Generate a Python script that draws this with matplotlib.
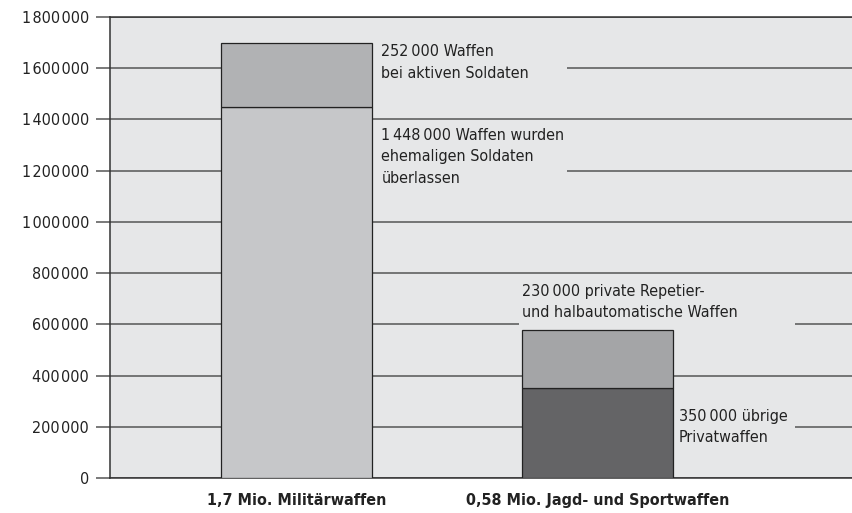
import numpy as np
import matplotlib
matplotlib.use("Agg")
import matplotlib.pyplot as plt
from matplotlib.patches import Rectangle
from matplotlib.ticker import FuncFormatter

plt.rcParams['font.family'] = ['DejaVu Sans']
plt.rcParams['font.stretch'] = 'condensed'

# data
categories = ['1,7 Mio. Militärwaffen', '0,58 Mio. Jagd- und Sportwaffen']
lower = [1448000, 350000]
upper = [252000, 230000]
lower_colors = ['#c6c7c9', '#646466']
upper_colors = ['#b1b2b4', '#a4a5a7']
yticks = np.arange(0, 1800001, 200000)

BG = '#e6e7e8'
GRID = '#555555'


def fmt(v, pos=None):
    s = f"{int(v):,}".replace(',', '\u200a')
    return s


fig = plt.figure(figsize=(8.53, 5.13), dpi=100)
ax = fig.add_axes([0.129, 0.068, 0.871, 0.899])
ax.set_facecolor(BG)

x = np.arange(len(categories))
w = 0.5
ax.bar(x, lower, w, color=lower_colors, edgecolor='#222222', linewidth=0.9, zorder=3)
ax.bar(x, upper, w, bottom=lower, color=upper_colors, edgecolor='#222222',
       linewidth=0.9, zorder=3)

ax.set_xlim(-0.62, 1.85)
ax.set_ylim(0, 1800000)
ax.set_yticks(yticks)
ax.yaxis.set_major_formatter(FuncFormatter(fmt))
ax.yaxis.grid(True, color=GRID, linewidth=1.1, zorder=0)
ax.set_axisbelow(True)

ax.set_xticks(x)
ax.set_xticklabels(categories, fontweight='bold', fontsize=11.5, color='#222222')
ax.tick_params(axis='x', length=0, pad=11)
ax.tick_params(axis='y', length=10, width=1.1, color=GRID, labelsize=11.5,
               labelcolor='#222222', pad=5)

ax.spines['right'].set_visible(False)
for side in ['left', 'bottom', 'top']:
    ax.spines[side].set_color('#333333')
    ax.spines[side].set_linewidth(1.1)

# gaps in gridlines behind annotations
def gap(x0, x1, y, h=30000):
    ax.add_patch(Rectangle((x0, y - h), x1 - x0, 2 * h, facecolor=BG,
                           edgecolor='none', zorder=1))

gap(0.25, 0.90, 1600000)
gap(0.25, 0.90, 1200000)
gap(0.738, 1.658, 600000)
gap(1.25, 1.658, 200000)

tkw = dict(fontsize=11.5, color='#222222', linespacing=1.55, zorder=4)
ax.text(0.282, 1623000, '252\u2009000 Waffen\nbei aktiven Soldaten', va='center', **tkw)
ax.text(0.282, 1254000, '1\u2009448\u2009000 Waffen wurden\nehemaligen Soldaten\nüberlassen',
        va='center', **tkw)
ax.text(0.751, 687000, '230\u2009000 private Repetier-\nund halbautomatische Waffen',
        va='center', **tkw)
ax.text(1.27, 200000, '350\u2009000 übrige\nPrivatwaffen', va='center', **tkw)

fig.savefig('out.png', dpi=100)
